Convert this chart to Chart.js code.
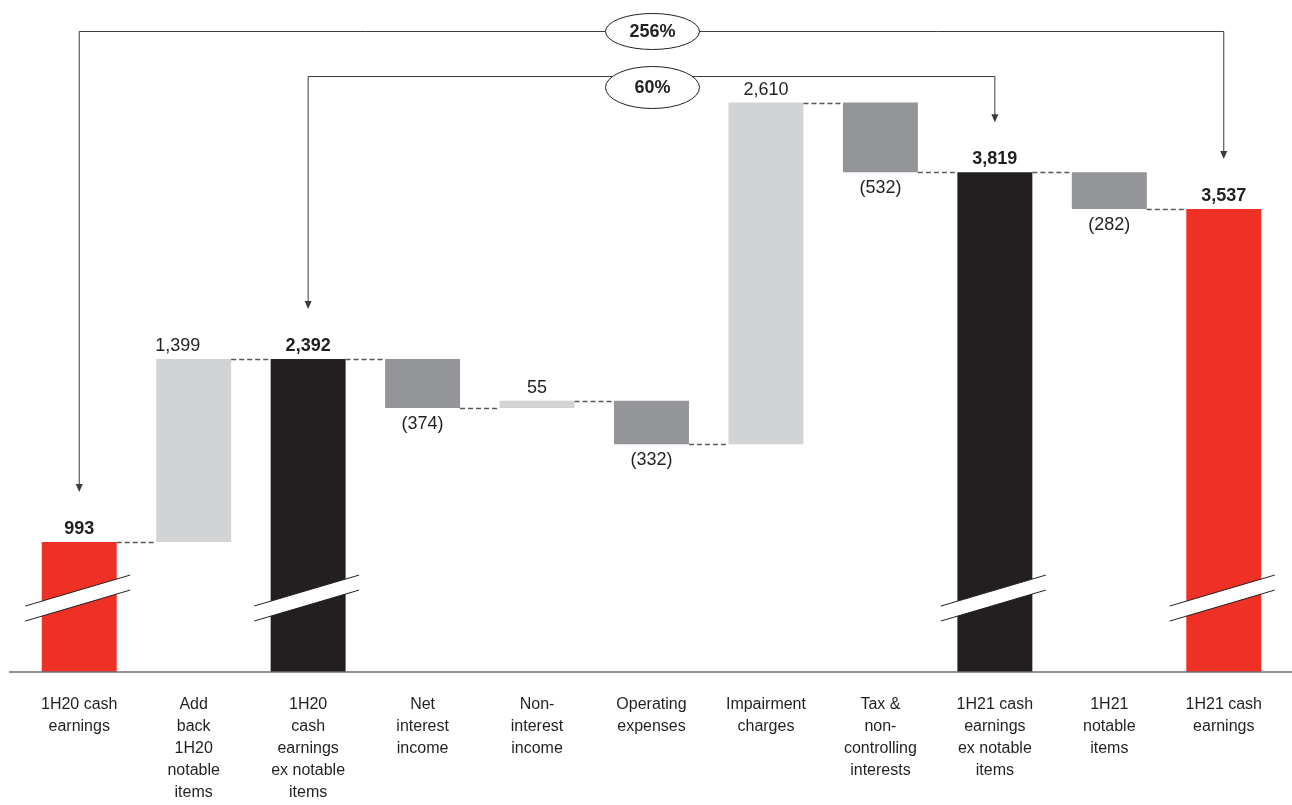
<!DOCTYPE html>
<html lang="en">
<head>
    <meta charset="UTF-8">
    <title>Cash earnings bridge 1H20 - 1H21</title>
    <script src="https://cdn.jsdelivr.net/npm/chart.js"></script>
    <style>
        body { margin: 0; background: #ffffff; }
        .grafico { width: 1292px; height: 805px; }
    </style>
</head>
<body>
    <div class="grafico">
        <canvas id="chartBridge" width="1292" height="805"></canvas>
    </div>
</body>
</html>
<script>

    // categorias e valores
    const categorias = [
        ['1H20 cash', 'earnings'],
        ['Add', 'back', '1H20', 'notable', 'items'],
        ['1H20', 'cash', 'earnings', 'ex notable', 'items'],
        ['Net', 'interest', 'income'],
        ['Non-', 'interest', 'income'],
        ['Operating', 'expenses'],
        ['Impairment', 'charges'],
        ['Tax &', 'non-', 'controlling', 'interests'],
        ['1H21 cash', 'earnings', 'ex notable', 'items'],
        ['1H21', 'notable', 'items'],
        ['1H21 cash', 'earnings']
    ]
    const valores = [993, 1399, 2392, -374, 55, -332, 2610, -532, 3819, -282, 3537]
    const tipos = ['total', 'up', 'total', 'down', 'up', 'down', 'up', 'down', 'total', 'down', 'total']
    const barrasComQuebra = [0, 2, 8, 10]
    const setas = [
        { de: 0, para: 10, texto: '256%' },
        { de: 2, para: 8, texto: '60%' }
    ]

    const corVermelho = '#EE3124'
    const corPreto = '#231F20'
    const corClaro = '#D1D3D4'
    const corEscuro = '#939598'
    const fonte = "'Liberation Sans', Arial, sans-serif"

    // monta as barras flutuantes da cascata
    const faixas = []
    const fins = []
    const cores = []
    let acumulado = 0
    for (let i = 0; i < valores.length; i++) {
        if (tipos[i] == 'total') {
            faixas.push([0, valores[i]])
            acumulado = valores[i]
            cores.push(i == 0 || i == valores.length - 1 ? corVermelho : corPreto)
        } else {
            faixas.push([acumulado, acumulado + valores[i]])
            acumulado = acumulado + valores[i]
            cores.push(tipos[i] == 'up' ? corClaro : corEscuro)
        }
        fins.push(acumulado)
    }

    function formatar(v) {
        const txt = Math.abs(v).toLocaleString('en-US')
        return v < 0 ? '(' + txt + ')' : txt
    }

    const extras = {
        id: 'extras',
        afterDatasetsDraw(chart) {
            const { ctx, chartArea, scales: { x, y } } = chart
            const meta = chart.getDatasetMeta(0)
            const barras = meta.data.map((b) => {
                const p = b.getProps(['x', 'y', 'base', 'width'], true)
                return { cx: p.x, esq: p.x - p.width / 2, dir: p.x + p.width / 2, topo: Math.min(p.y, p.base), fundo: Math.max(p.y, p.base) }
            })

            ctx.save()

            // linha de base
            const base = y.getPixelForValue(0)
            ctx.strokeStyle = '#6D6E71'
            ctx.lineWidth = 1.5
            ctx.beginPath()
            ctx.moveTo(9, base)
            ctx.lineTo(chart.width, base)
            ctx.stroke()

            // conectores tracejados
            ctx.strokeStyle = '#58595B'
            ctx.lineWidth = 1.3
            ctx.setLineDash([5, 3])
            for (let i = 0; i < barras.length - 1; i++) {
                const nivel = Math.round(y.getPixelForValue(fins[i])) + 0.5
                ctx.beginPath()
                ctx.moveTo(barras[i].dir, nivel)
                ctx.lineTo(barras[i + 1].esq, nivel)
                ctx.stroke()
            }
            ctx.setLineDash([])

            // marcas de quebra
            const yQuebra = y.getPixelForValue(565)
            for (const i of barrasComQuebra) {
                const cx = barras[i].cx
                const x1 = cx - 54
                const x2 = cx + 51
                ctx.fillStyle = '#ffffff'
                ctx.beginPath()
                ctx.moveTo(x1, yQuebra + 8)
                ctx.lineTo(x2, yQuebra - 23)
                ctx.lineTo(x2, yQuebra - 8)
                ctx.lineTo(x1, yQuebra + 23)
                ctx.closePath()
                ctx.fill()
                ctx.strokeStyle = corPreto
                ctx.lineWidth = 1
                ctx.beginPath()
                ctx.moveTo(x1, yQuebra + 8)
                ctx.lineTo(x2, yQuebra - 23)
                ctx.moveTo(x1, yQuebra + 23)
                ctx.lineTo(x2, yQuebra - 8)
                ctx.stroke()
            }

            // rótulos de valor
            const ajusteX = [0, -16, 0, 0, 0, 0, 0, 0, 0, 0, 0]
            ctx.fillStyle = corPreto
            ctx.textAlign = 'center'
            ctx.textBaseline = 'alphabetic'
            for (let i = 0; i < barras.length; i++) {
                ctx.font = (tipos[i] == 'total' ? 'bold ' : '') + '18px ' + fonte
                const lx = barras[i].cx + ajusteX[i]
                if (tipos[i] == 'down') {
                    ctx.fillText(formatar(valores[i]), lx, barras[i].fundo + 21)
                } else {
                    ctx.fillText(formatar(valores[i]), lx, barras[i].topo - 8)
                }
            }

            // setas de comparação
            const alturas = [31, 76]
            const deslocElipse = [0, 11]
            const raioY = [18, 21]
            for (let s = 0; s < setas.length; s++) {
                const a = barras[setas[s].de]
                const b = barras[setas[s].para]
                const linha = chartArea.top + alturas[s] + 0.5
                const pontaA = a.topo - 50
                const pontaB = b.topo - 50
                ctx.strokeStyle = '#3A3A3A'
                ctx.lineWidth = 1
                ctx.beginPath()
                ctx.moveTo(a.cx, pontaA - 7)
                ctx.lineTo(a.cx, linha)
                ctx.lineTo(b.cx, linha)
                ctx.lineTo(b.cx, pontaB - 7)
                ctx.stroke()
                ctx.fillStyle = '#3A3A3A'
                for (const [px, py] of [[a.cx, pontaA], [b.cx, pontaB]]) {
                    ctx.beginPath()
                    ctx.moveTo(px - 3.5, py - 8)
                    ctx.lineTo(px + 3.5, py - 8)
                    ctx.lineTo(px, py)
                    ctx.closePath()
                    ctx.fill()
                }
                const ex = (a.cx + b.cx) / 2 + 1
                const ey = linha + deslocElipse[s]
                ctx.fillStyle = '#ffffff'
                ctx.strokeStyle = corPreto
                ctx.beginPath()
                ctx.ellipse(ex, ey, 47, raioY[s], 0, 0, Math.PI * 2)
                ctx.fill()
                ctx.stroke()
                ctx.fillStyle = corPreto
                ctx.font = 'bold 18px ' + fonte
                ctx.textBaseline = 'middle'
                ctx.fillText(setas[s].texto, ex, ey + 1)
                ctx.textBaseline = 'alphabetic'
            }

            ctx.restore()
        }
    }

    const ctx = document.getElementById('chartBridge')

    const chart1 = new Chart(ctx, {
        type: 'bar',
        data: {
            labels: categorias,
            datasets: [{
                data: faixas,
                backgroundColor: cores,
                borderWidth: 0,
                borderSkipped: false,
                barPercentage: 0.655,
                categoryPercentage: 1
            }]
        },
        options: {
            responsive: false,
            animation: false,
            layout: {
                padding: { top: 0, left: 22, right: 11, bottom: 0 }
            },
            plugins: {
                legend: { display: false },
                tooltip: { enabled: false }
            },
            scales: {
                y: {
                    display: false,
                    min: 0,
                    max: 5135
                },
                x: {
                    grid: { display: false, drawTicks: false },
                    border: { display: false },
                    ticks: {
                        color: corPreto,
                        padding: 22,
                        maxRotation: 0,
                        autoSkip: false,
                        font: { family: fonte, size: 16, lineHeight: '22px' }
                    },
                    afterFit: (scale) => {
                        scale.height = 133
                    }
                }
            }
        },
        plugins: [extras]
    })

</script>
